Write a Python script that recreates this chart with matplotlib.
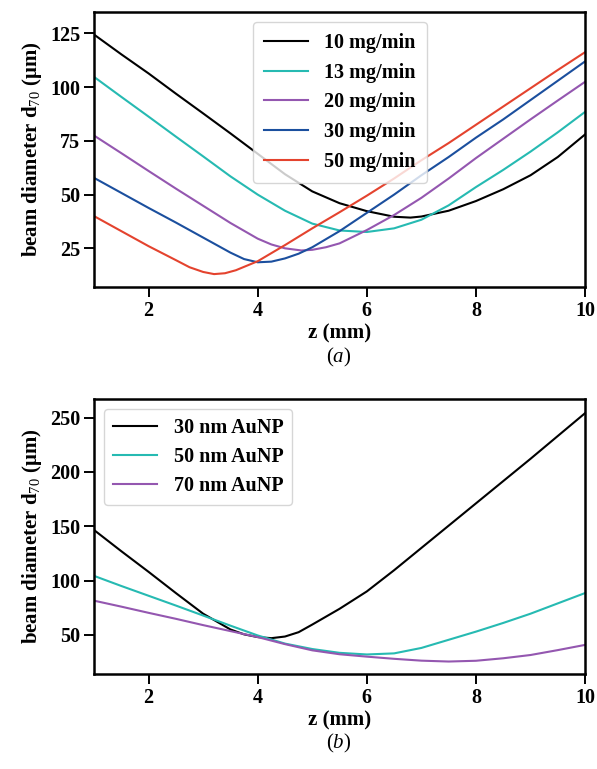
import numpy as np
import matplotlib
matplotlib.use('Agg')
import matplotlib.pyplot as plt

plt.rcParams['font.family'] = ['Liberation Serif', 'DejaVu Serif']
plt.rcParams['mathtext.fontset'] = 'custom'
plt.rcParams['mathtext.rm'] = 'Liberation Serif'
plt.rcParams['mathtext.it'] = 'Liberation Serif:italic'
plt.rcParams['mathtext.bf'] = 'Liberation Serif:bold'
plt.rcParams['axes.labelweight'] = 'bold'

# (a) feed rates
z_10 = [1, 1.5, 2, 2.5, 3, 3.5, 4, 4.5, 5, 5.5, 6, 6.5, 6.8, 7, 7.5, 8, 8.5, 9, 9.5, 10]
d_10 = [124.5, 115.3, 106.4, 97.0, 87.8, 78.5, 69.0, 59.5, 51.5, 46.0, 42.3, 39.7, 39.3,
        39.8, 42.5, 47.0, 52.5, 59.0, 67.5, 78.0]

z_13 = [1, 1.5, 2, 2.5, 3, 3.5, 4, 4.5, 5, 5.5, 6, 6.5, 7, 7.5, 8, 8.5, 9, 9.5, 10]
d_13 = [104.8, 95.5, 86.3, 77.0, 67.8, 58.5, 50.0, 42.5, 36.5, 33.3, 32.6, 34.3, 38.3,
        45.0, 53.5, 61.5, 70.0, 79.0, 88.5]

z_20 = [1, 1.5, 2, 2.5, 3, 3.5, 4, 4.25, 4.5, 4.8, 5, 5.25, 5.5, 6, 6.5, 7, 7.5, 8, 8.5, 9, 9.5, 10]
d_20 = [77.5, 69.3, 61.0, 52.8, 44.8, 36.8, 29.5, 26.8, 25.0, 24.0, 24.3, 25.5, 27.3,
        33.5, 40.5, 48.5, 57.5, 67.0, 76.0, 85.0, 93.8, 102.5]

z_30 = [1, 1.5, 2, 2.5, 3, 3.25, 3.5, 3.75, 4, 4.25, 4.5, 4.75, 5, 5.5, 6, 6.5, 7, 7.5, 8, 8.5, 9, 9.5, 10]
d_30 = [57.8, 50.8, 43.8, 37.0, 30.0, 26.5, 23.0, 20.0, 18.5, 18.8, 20.3, 22.5, 25.5,
        33.0, 41.5, 50.0, 59.0, 67.5, 76.5, 85.0, 94.0, 103.0, 112.0]

z_50 = [1, 1.5, 2, 2.5, 2.75, 3, 3.2, 3.4, 3.6, 4, 4.5, 5, 5.5, 6, 6.5, 7, 7.5, 8, 8.5, 9, 9.5, 10]
d_50 = [40.0, 33.0, 26.0, 19.5, 16.2, 14.0, 13.0, 13.4, 14.8, 19.0, 26.5, 34.3, 41.8,
        49.5, 57.5, 66.0, 74.0, 82.5, 91.0, 99.5, 108.0, 116.3]

# (b) particle sizes
z_30nm = [1, 1.5, 2, 2.5, 3, 3.5, 3.75, 4, 4.25, 4.5, 4.75, 5, 5.5, 6, 6.5, 7, 7.5, 8, 8.5, 9, 9.5, 10]
d_30nm = [146.5, 127.0, 108.0, 88.5, 69.5, 55.0, 50.5, 48.0, 47.0, 48.5, 52.5, 59.5,
          74.0, 90.0, 109.5, 130.0, 150.5, 171.0, 191.5, 212.0, 233.0, 254.0]
z_50nm = [1, 1.5, 2, 2.5, 3, 3.5, 4, 4.5, 5, 5.5, 6, 6.5, 7, 7.5, 8, 8.5, 9, 9.5, 10]
d_50nm = [104.3, 95.0, 86.0, 77.0, 67.8, 58.5, 49.5, 42.0, 37.0, 33.5, 32.0,
          33.0, 38.0, 45.5, 53.0, 61.0, 69.5, 79.0, 88.5]
z_70nm = [1, 1.5, 2, 2.5, 3, 3.5, 4, 4.5, 5, 5.5, 6, 6.5, 7, 7.5, 8, 8.5, 9, 9.5, 10]
d_70nm = [81.5, 76.0, 70.3, 64.8, 59.0, 53.5, 48.0, 41.5, 35.8, 32.2, 30.0,
          28.0, 26.3, 25.5, 26.2, 28.5, 31.5, 36.0, 40.8]

col_blk = 'black'
col_cyan = '#26bab2'
col_purp = '#9457b0'
col_blue = '#1b4f9e'
col_red = '#e4432e'

fs = 14.5

fig = plt.figure(figsize=(5.97, 7.69), dpi=100)
ax1 = fig.add_axes([0.1575, 0.6268, 0.8225, 0.3576])
ax2 = fig.add_axes([0.1575, 0.1235, 0.8225, 0.3576])

lw = 1.5
ax1.plot(z_10, d_10, color=col_blk, lw=lw, label='10 mg/min')
ax1.plot(z_13, d_13, color=col_cyan, lw=lw, label='13 mg/min')
ax1.plot(z_20, d_20, color=col_purp, lw=lw, label='20 mg/min')
ax1.plot(z_30, d_30, color=col_blue, lw=lw, label='30 mg/min')
ax1.plot(z_50, d_50, color=col_red, lw=lw, label='50 mg/min')
ax1.set_ylim(7, 135)
ax1.set_yticks([25, 50, 75, 100, 125])

ax2.plot(z_30nm, d_30nm, color=col_blk, lw=lw, label='30 nm AuNP')
ax2.plot(z_50nm, d_50nm, color=col_cyan, lw=lw, label='50 nm AuNP')
ax2.plot(z_70nm, d_70nm, color=col_purp, lw=lw, label='70 nm AuNP')
ax2.set_ylim(14, 267)
ax2.set_yticks([50, 100, 150, 200, 250])

for ax in (ax1, ax2):
    ax.set_xlim(1, 10)
    ax.set_xticks([2, 4, 6, 8, 10])
    ax.tick_params(labelsize=fs, width=1.4, length=7, pad=3)
    for lbl in ax.get_xticklabels() + ax.get_yticklabels():
        lbl.set_fontweight('bold')
    for s in ax.spines.values():
        s.set_linewidth(1.8)
    ax.set_xlabel('z (mm)', fontsize=15, labelpad=2)
    ax.set_ylabel('beam diameter d$_{70}$ (μm)', fontsize=15, labelpad=4)

ax1.legend(loc='upper center', prop={'size': fs, 'weight': 'bold'}, handlelength=2.2,
           labelspacing=0.48, borderpad=0.55)
ax2.legend(loc='upper left', prop={'size': fs, 'weight': 'bold'}, handlelength=2.2,
           labelspacing=0.45, borderpad=0.45)

fig.text(0.568, 1 - 357 / 769, r'$(a)$', ha='center', va='center', fontsize=15)
fig.text(0.568, 1 - 743 / 769, r'$(b)$', ha='center', va='center', fontsize=15)

fig.savefig('out.png', dpi=100)
